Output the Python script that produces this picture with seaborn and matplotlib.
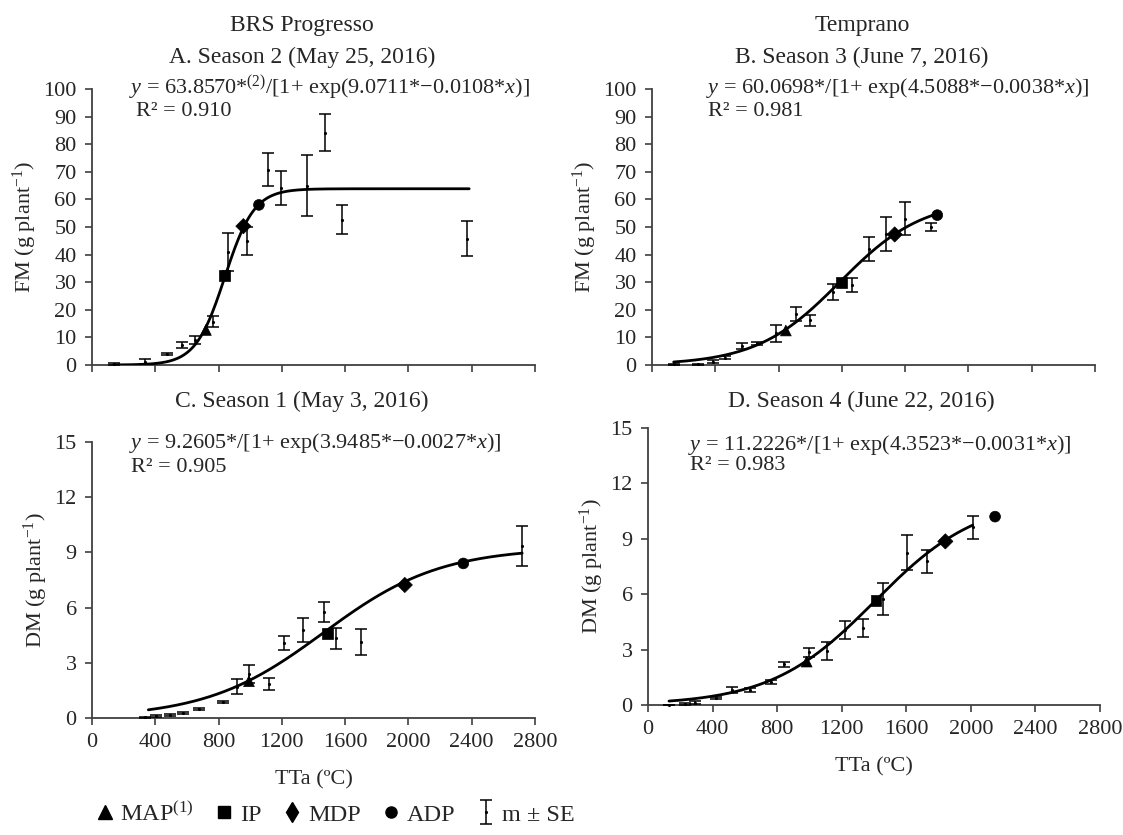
import numpy as np
import pandas as pd
import matplotlib
matplotlib.use("Agg")
import matplotlib.pyplot as plt
import seaborn as sns
from matplotlib.lines import Line2D

# --- Data ------------------------------------------------------------------
# Panel A: BRS Progresso, season 2, fresh mass (FM)
a_x = [137, 333, 474, 570, 652, 766, 857, 980, 1112, 1197, 1356, 1470, 1580, 2370]
a_y = [0.3, 1.2, 4.0, 7.2, 9.0, 15.7, 41.0, 45.0, 70.8, 64.0, 65.0, 84.2, 52.7, 45.7]
a_se = [0.3, 0.8, 0.3, 1.0, 1.5, 2.0, 7.0, 5.0, 6.0, 6.2, 11.0, 6.8, 5.3, 6.3]
a_stage_x = [720, 839, 957, 1055]
a_stage_y = [12.7, 32.4, 50.3, 58.0]
a_fit = [63.8570, 9.0711, 0.0108]
a_range = [137, 2384]

# Panel B: Temprano, season 3, FM
b_x = [137, 292, 383, 463, 570, 663, 786, 907, 998, 1146, 1267, 1374, 1481, 1598, 1762]
b_y = [0.2, 0.3, 1.2, 2.6, 6.8, 7.8, 11.5, 18.6, 16.2, 26.5, 29.0, 42.0, 47.5, 53.0, 50.0]
b_se = [0.1, 0.2, 0.5, 0.5, 1.0, 0.7, 3.0, 2.5, 2.0, 3.0, 2.5, 4.5, 6.2, 6.0, 1.5]
b_stage_x = [846, 1199, 1534, 1803]
b_stage_y = [12.5, 29.8, 47.3, 54.3]
b_fit = [60.0698, 4.5088, 0.0038]
b_range = [137, 1803]

# Panel C: BRS Progresso, season 1, dry mass (DM)
c_x = [338, 406, 493, 577, 679, 827, 918, 992, 1117, 1215, 1333, 1465, 1541, 1700, 2719]
c_y = [0.03, 0.1, 0.18, 0.27, 0.49, 0.87, 1.7, 2.4, 1.83, 4.07, 4.8, 5.75, 4.33, 4.13, 9.35]
c_se = [0.02, 0.05, 0.06, 0.06, 0.07, 0.06, 0.4, 0.5, 0.33, 0.38, 0.65, 0.55, 0.58, 0.68, 1.1]
c_stage_x = [992, 1488, 1977, 2347]
c_stage_y = [2.0, 4.6, 7.23, 8.4]
c_fit = [9.2605, 3.9485, 0.0027]
c_range = [356, 2719]

# Panel D: Temprano, season 4, DM
d_x = [130, 228, 290, 420, 523, 630, 764, 842, 999, 1110, 1222, 1334, 1453, 1605, 1726, 2011]
d_y = [0.0, 0.05, 0.13, 0.36, 0.81, 0.81, 1.26, 2.2, 2.85, 2.92, 4.05, 4.17, 5.75, 8.25, 7.78, 9.63]
d_se = [0.02, 0.05, 0.07, 0.05, 0.15, 0.12, 0.1, 0.15, 0.25, 0.48, 0.5, 0.48, 0.85, 0.95, 0.63, 0.63]
d_stage_x = [983, 1413, 1842, 2150]
d_stage_y = [2.35, 5.64, 8.86, 10.2]
d_fit = [11.2226, 4.3523, 0.0031]
d_range = [130, 2011]

stages = ["MAP", "IP", "MDP", "ADP"]
stage_markers = {"MAP": "^", "IP": "s", "MDP": "D", "ADP": "o"}

x_ticks = list(range(0, 3200, 400))
fm_ticks = list(range(0, 110, 10))
dm_ticks = list(range(0, 18, 3))

sns.set_theme(style="ticks")
plt.rcParams["font.family"] = ["Liberation Serif", "DejaVu Serif"]
plt.rcParams["mathtext.fontset"] = "custom"
plt.rcParams["mathtext.rm"] = "Liberation Serif"
plt.rcParams["mathtext.it"] = "Liberation Serif:italic"
FS = 16
AX_COLOR = "#404040"

W, H = 1123, 835
fig = plt.figure(figsize=(W / 100, H / 100), dpi=100)


def px_axes(left, right, top, bottom):
    return fig.add_axes([left / W, 1 - bottom / H, (right - left) / W, (bottom - top) / H])


panels = [
    dict(box=(92, 535, 89, 365), x=a_x, y=a_y, se=a_se, sx=a_stage_x, sy=a_stage_y,
         fit=a_fit, rng=a_range, yt=fm_ticks, ylab=r"FM (g plant$^{-1}$)", xlab=False,
         eq=r"$y$ = 63.8570*$^{(2)}$/[1+ exp(9.0711*−0.0108*$x$)]", r2="R² = 0.910",
         eqpos=(129, 88), r2pos=(136, 112)),
    dict(box=(652, 1095, 89, 365), x=b_x, y=b_y, se=b_se, sx=b_stage_x, sy=b_stage_y,
         fit=b_fit, rng=b_range, yt=fm_ticks, ylab=r"FM (g plant$^{-1}$)", xlab=False,
         eq=r"$y$ = 60.0698*/[1+ exp(4.5088*−0.0038*$x$)]", r2="R² = 0.981",
         eqpos=(706, 88), r2pos=(708, 112)),
    dict(box=(92, 535, 442, 718), x=c_x, y=c_y, se=c_se, sx=c_stage_x, sy=c_stage_y,
         fit=c_fit, rng=c_range, yt=dm_ticks, ylab=r"DM (g plant$^{-1}$)", xlab=True,
         eq=r"$y$ = 9.2605*/[1+ exp(3.9485*−0.0027*$x$)]", r2="R² = 0.905",
         eqpos=(129, 443), r2pos=(131, 467)),
    dict(box=(648, 1100, 428, 705), x=d_x, y=d_y, se=d_se, sx=d_stage_x, sy=d_stage_y,
         fit=d_fit, rng=d_range, yt=dm_ticks, ylab=r"DM (g plant$^{-1}$)", xlab=True,
         eq=r"$y$ = 11.2226*/[1+ exp(4.3523*−0.0031*$x$)]", r2="R² = 0.983",
         eqpos=(688, 445), r2pos=(690, 466)),
]

err_handle = None
for p in panels:
    l, r, t, b = p["box"]
    ax = px_axes(l, r, t, b)

    # error bars (m ± SE)
    eb = ax.errorbar(p["x"], p["y"], yerr=p["se"], fmt=".", ms=2.5, color="black",
                     ecolor="black", elinewidth=1.1, capsize=4.5, capthick=1.1,
                     zorder=3, clip_on=False)
    if err_handle is None:
        err_handle = eb

    # fitted logistic curve from the printed parameters
    A, B, C = p["fit"]
    xs = np.linspace(p["rng"][0], p["rng"][1], 300)
    curve = pd.DataFrame({"x": xs, "y": A / (1 + np.exp(B - C * xs))})
    sns.lineplot(data=curve, x="x", y="y", ax=ax, color="black", lw=2, zorder=4)

    # phenological stage markers
    st = pd.DataFrame({"x": p["sx"], "y": p["sy"], "stage": stages})
    sns.scatterplot(data=st, x="x", y="y", style="stage", markers=stage_markers,
                    color="black", s=60, edgecolor="black", linewidth=0.5,
                    legend=False, ax=ax, zorder=5)

    ax.set_xlim(0, 2800)
    ax.set_ylim(0, p["yt"][-1])
    ax.set_xticks(x_ticks)
    ax.set_yticks(p["yt"])
    ax.set_ylabel(p["ylab"], fontsize=FS, labelpad=3)
    if p["xlab"]:
        ax.set_xlabel("TTa (ºC)", fontsize=FS, labelpad=13)
        ax.tick_params(axis="x", labelsize=FS)
    else:
        ax.set_xlabel("")
        ax.tick_params(axis="x", labelbottom=False)
    ax.tick_params(axis="y", labelsize=FS)
    ax.tick_params(axis="both", direction="out", length=5, width=1.2,
                   color=AX_COLOR, pad=6)
    for side in ["top", "right"]:
        ax.spines[side].set_visible(False)
    for side in ["left", "bottom"]:
        ax.spines[side].set_color(AX_COLOR)
        ax.spines[side].set_linewidth(1.3)

    fig.text(p["eqpos"][0] / W, 1 - p["eqpos"][1] / H, p["eq"], fontsize=FS,
             ha="left", va="center")
    fig.text(p["r2pos"][0] / W, 1 - p["r2pos"][1] / H, p["r2"], fontsize=FS,
             ha="left", va="center")

# titles
titles = [
    (302, 26, "BRS Progresso"), (302, 57, "A. Season 2 (May 25, 2016)"),
    (862, 26, "Temprano"), (862, 57, "B. Season 3 (June 7, 2016)"),
    (302, 401, "C. Season 1 (May 3, 2016)"), (861, 401, "D. Season 4 (June 22, 2016)"),
]
for tx, ty, s in titles:
    fig.text(tx / W, 1 - ty / H, s, fontsize=17, ha="center", va="center")

# legend
handles = [Line2D([], [], marker="^", ls="none", color="black", markersize=10),
           Line2D([], [], marker="s", ls="none", color="black", markersize=8),
           Line2D([], [], marker="d", ls="none", color="black", markersize=10),
           Line2D([], [], marker="o", ls="none", color="black", markersize=8),
           err_handle]
labels = ["MAP$^{(1)}$", "IP", "MDP", "ADP", "m ± SE"]
fig.legend(handles, labels, loc="center left", bbox_to_anchor=(96 / W, 1 - 814 / H),
           ncol=5, frameon=False, fontsize=17.5, handletextpad=0.3,
           columnspacing=0.9, handlelength=0.7, borderaxespad=0, borderpad=0)

fig.savefig("out.png", dpi=100)
